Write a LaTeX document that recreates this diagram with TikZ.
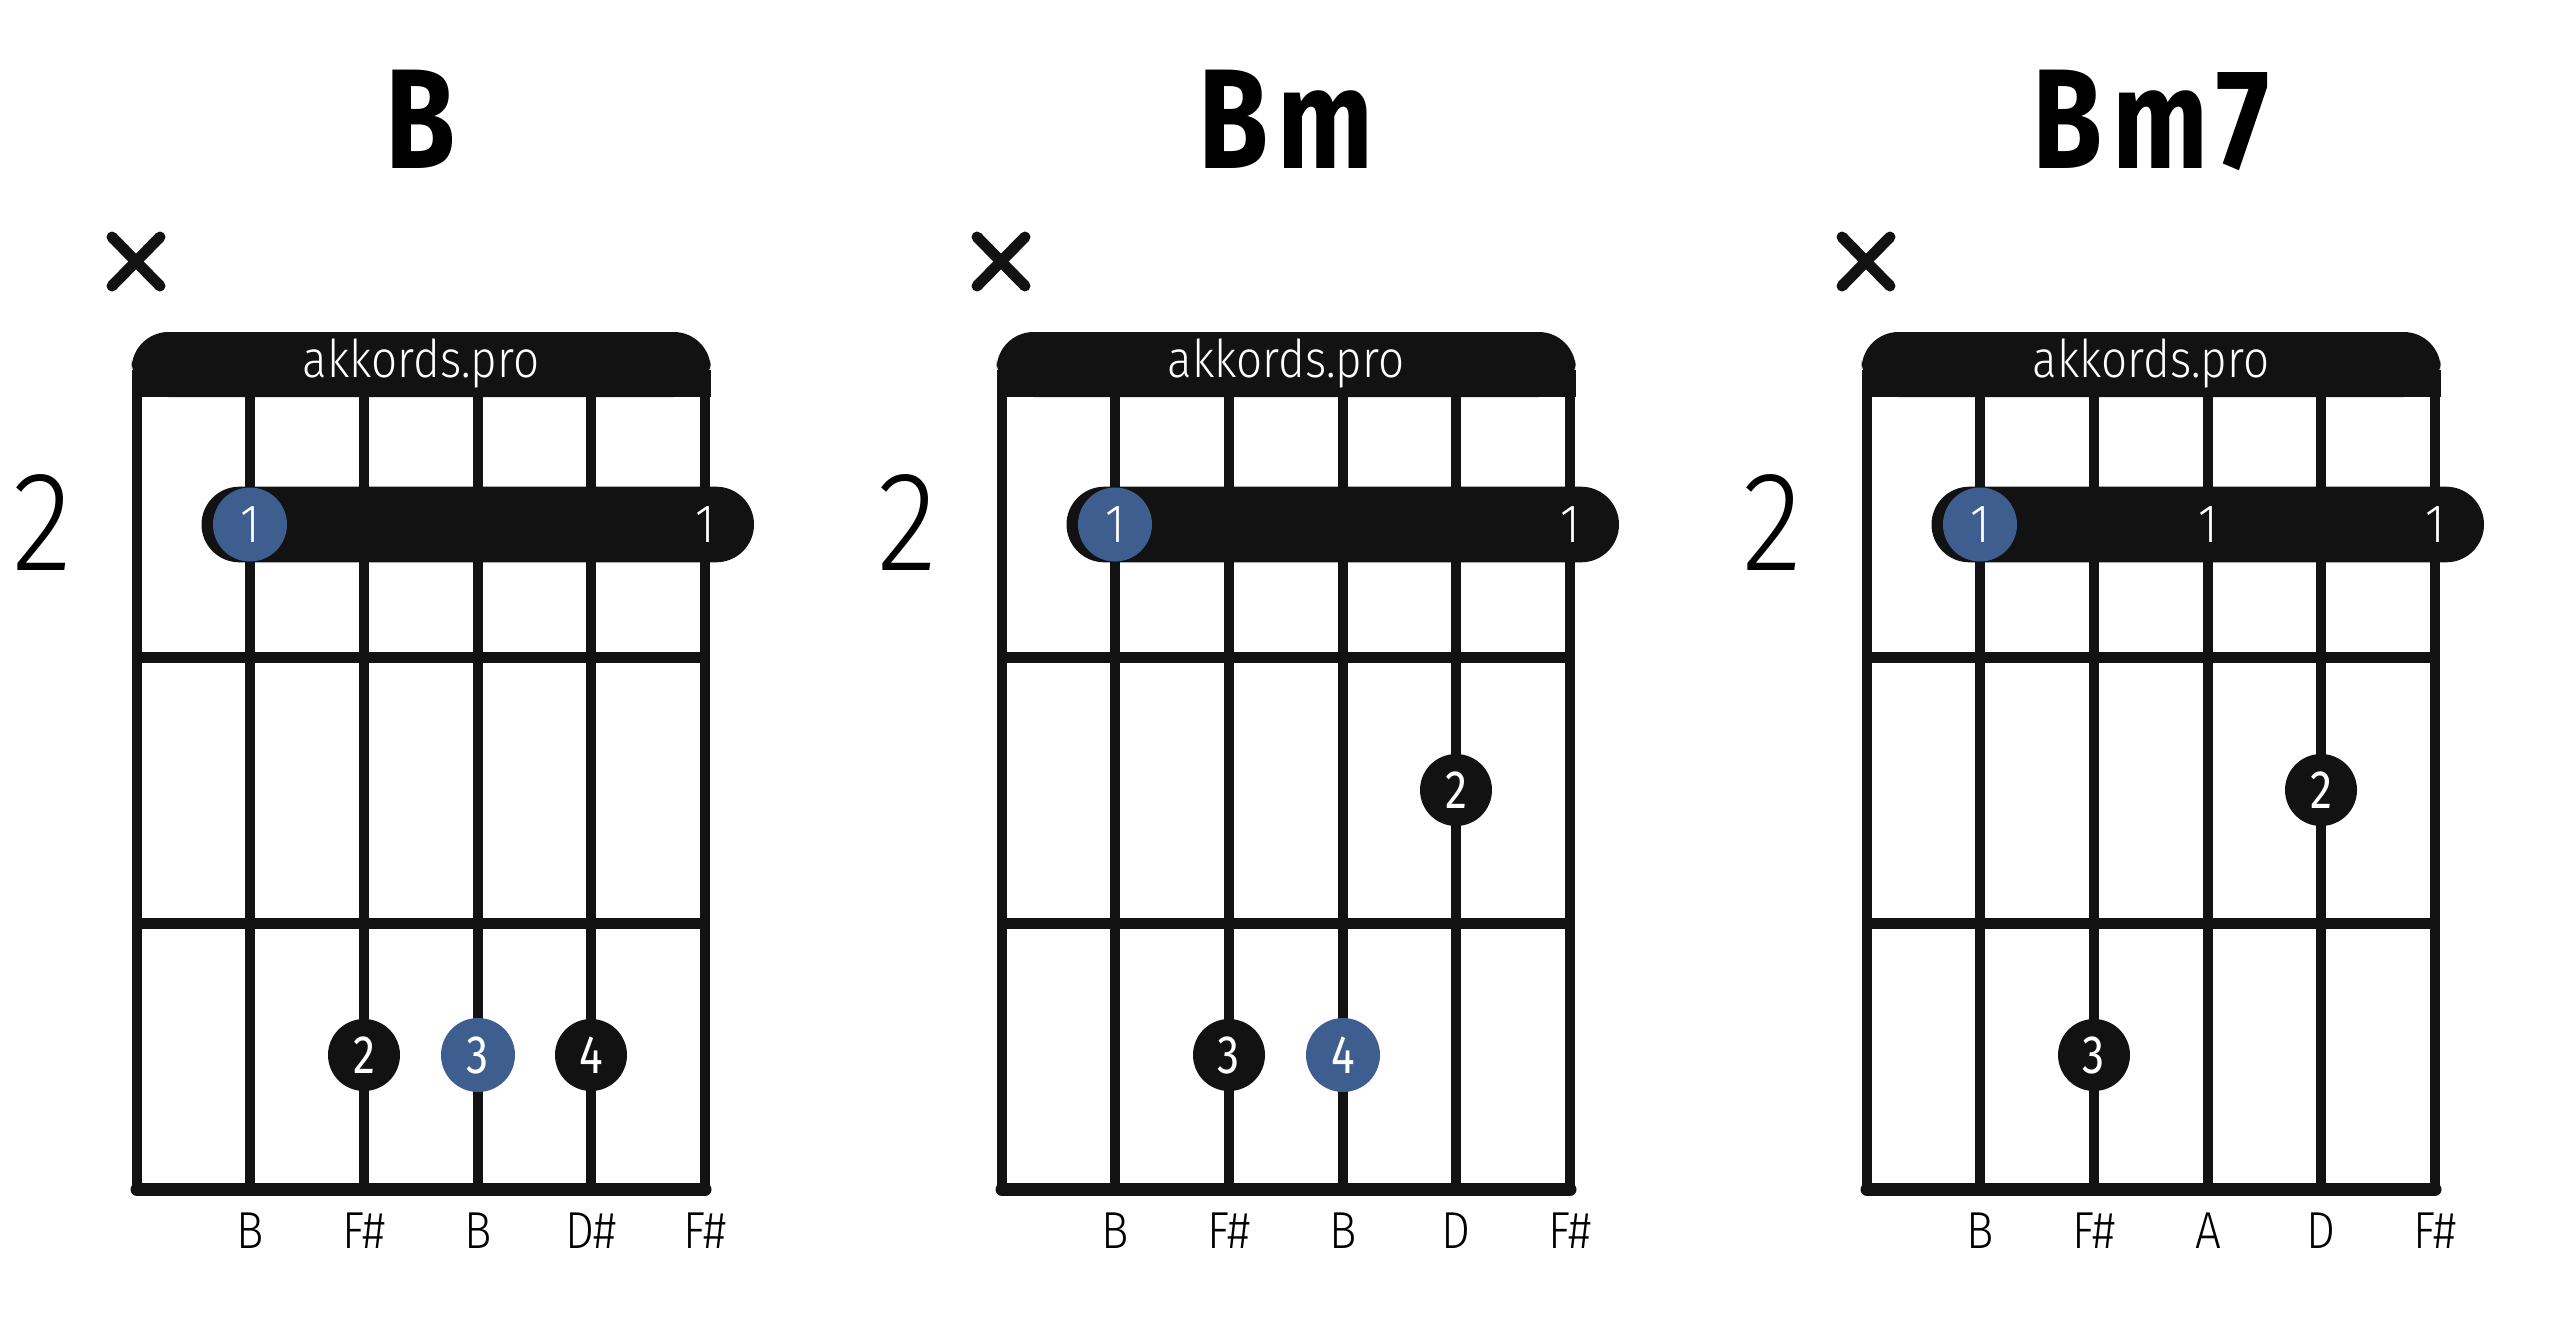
\documentclass[tikz,border=0pt]{standalone}
\usepackage{fontspec}
\setmainfont{Fira Sans}
\newfontfamily\titlefont[FakeStretch=0.8,LetterSpace=7]{Fira Sans}
\newfontfamily\condfont[FakeStretch=0.88]{Fira Sans Light}
\newfontfamily\numfont[FakeStretch=0.82]{Fira Sans}
\usetikzlibrary{positioning}
\definecolor{ink}{HTML}{121212}
\definecolor{rootblue}{HTML}{3D5E8E}
\tikzset{
  stringline/.style={ink,line width=5.2pt},
  fretline/.style={ink,line width=5.7pt},
  nutband/.style={fill=ink,rounded corners=18.5pt},
  barrebar/.style={fill=ink,rounded corners=18.9pt},
  fingerdot/.style={circle,fill=ink,text=white,minimum size=36pt,inner sep=0pt,font=\numfont\fontsize{27}{27}\selectfont},
  rootdot/.style={fingerdot,fill=rootblue,minimum size=37pt},
  barrenum/.style={text=white,inner sep=0pt,font=\condfont\fontsize{27}{27}\selectfont},
  notelabel/.style={anchor=base,inner sep=0pt,font=\condfont\fontsize{26}{26}\selectfont},
  chordtitle/.style={anchor=base,inner sep=0pt,font=\titlefont\bfseries\fontsize{71}{71}\selectfont},
  fretnum/.style={anchor=base,inner sep=0pt,font=\condfont\fontsize{71}{71}\selectfont},
  logo/.style={anchor=base,inner sep=0pt,text=white,font=\condfont\fontsize{26}{26}\selectfont},
  mutemark/.style={ink,line width=5.5pt,line cap=round}
}
% grid of one chord box, #1 = name prefix
\newcommand\fretboard[1]{%
  \fill[nutband] (131.6,332) rectangle (710.7,397);
  \fill[ink] (131.6,370) rectangle (710.7,397);
  \draw[stringline,line join=round] (137,392) -- (137,1189.5) -- (705,1189.5) -- (705,392);
  \foreach \sx in {250,364,478,591}
    \draw[stringline] (\sx,392) -- (\sx,1189.5);
  \draw[fretline] (137,657.5) -- (705,657.5) (137,923.5) -- (705,923.5);
  \draw[ink,line width=6.5pt,line cap=round] (137,1189.5) -- (705,1189.5);
  \draw[mutemark] (112,237) -- (160,286) (160,237) -- (112,286);
  \node[logo] (#1-logo) at (421,377) {akkords.pro};
  \node[fretnum] (#1-fret) at (42.5,570) {2};
  \fill[barrebar] (201.5,486.7) rectangle (754,562.3);
}

\begin{document}
\begin{tikzpicture}[x=0.5pt,y=-0.5pt]
\useasboundingbox (0,0) rectangle (2560,1328);

\begin{scope}
\fretboard{b}
\node[chordtitle] (b-name) at (421,168) {B};
\node[rootdot,font=\condfont\fontsize{27}{27}\selectfont] (b-f1) at (250,524.5) {1};
\node[barrenum] (b-f1e) at (705,524.5) {1};
\node[fingerdot] (b-f2) at (364,1055) {2};
\node[rootdot] (b-f3) at (478,1055) {3};
\node[fingerdot] (b-f4) at (591,1055) {4};
\node[notelabel] (b-n2) at (250,1248) {B};
\node[notelabel] (b-n3) at (364,1248) {F\#};
\node[notelabel] (b-n4) at (478,1248) {B};
\node[notelabel] (b-n5) at (591,1248) {D\#};
\node[notelabel] (b-n6) at (705,1248) {F\#};
\end{scope}

\begin{scope}[shift={(865,0)}]
\fretboard{bm}
\node[chordtitle] (bm-name) at (421,168) {Bm};
\node[rootdot,font=\condfont\fontsize{27}{27}\selectfont] (bm-f1) at (250,524.5) {1};
\node[barrenum] (bm-f1e) at (705,524.5) {1};
\node[fingerdot] (bm-f2) at (591,790) {2};
\node[fingerdot] (bm-f3) at (364,1055) {3};
\node[rootdot] (bm-f4) at (478,1055) {4};
\node[notelabel] (bm-n2) at (250,1248) {B};
\node[notelabel] (bm-n3) at (364,1248) {F\#};
\node[notelabel] (bm-n4) at (478,1248) {B};
\node[notelabel] (bm-n5) at (591,1248) {D};
\node[notelabel] (bm-n6) at (705,1248) {F\#};
\end{scope}

\begin{scope}[shift={(1730,0)}]
\fretboard{bmseven}
\node[chordtitle] (bmseven-name) at (421,168) {Bm7};
\node[rootdot,font=\condfont\fontsize{27}{27}\selectfont] (bmseven-f1) at (250,524.5) {1};
\node[barrenum] (bmseven-f1m) at (478,524.5) {1};
\node[barrenum] (bmseven-f1e) at (705,524.5) {1};
\node[fingerdot] (bmseven-f2) at (591,790) {2};
\node[fingerdot] (bmseven-f3) at (364,1055) {3};
\node[notelabel] (bmseven-n2) at (250,1248) {B};
\node[notelabel] (bmseven-n3) at (364,1248) {F\#};
\node[notelabel] (bmseven-n4) at (478,1248) {A};
\node[notelabel] (bmseven-n5) at (591,1248) {D};
\node[notelabel] (bmseven-n6) at (705,1248) {F\#};
\end{scope}
\end{tikzpicture}
\end{document}
